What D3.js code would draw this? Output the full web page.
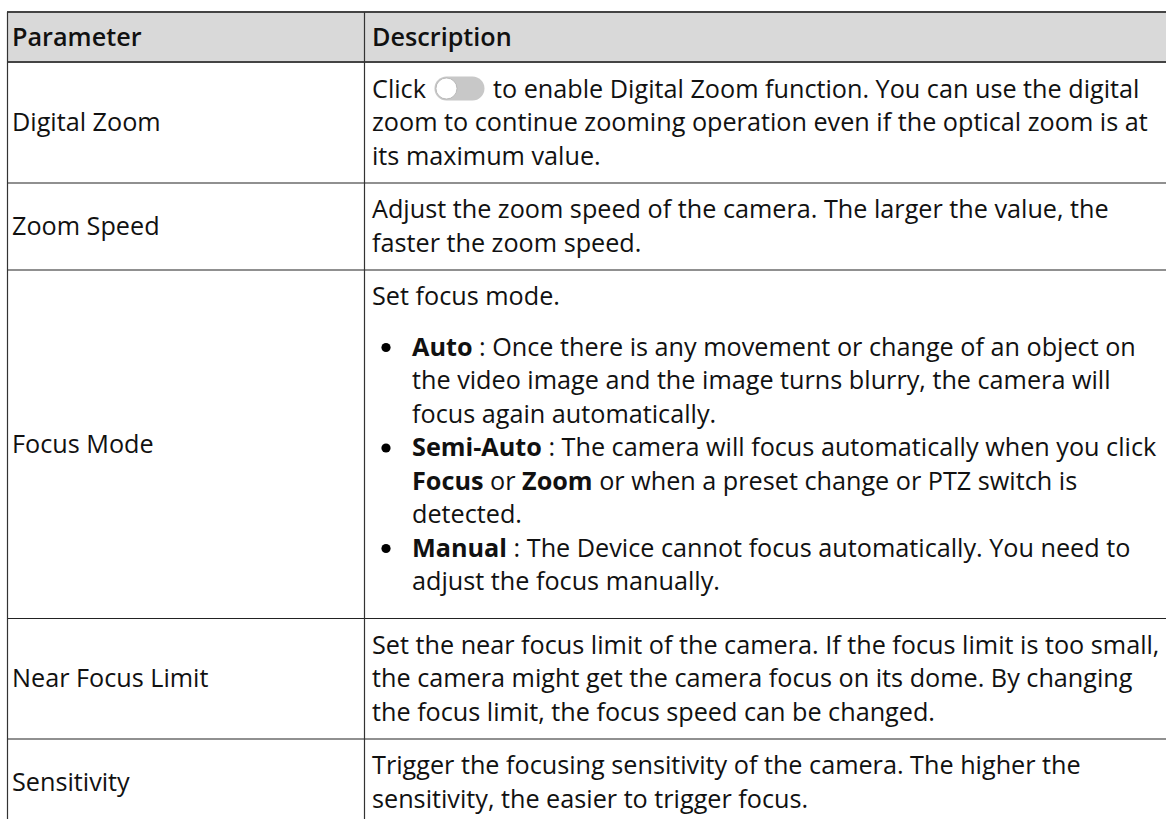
<!DOCTYPE html>
<html><head><meta charset="utf-8">
<script src="https://cdn.jsdelivr.net/npm/d3@7"></script>
<style>html,body{margin:0;padding:0;background:#fff;} svg{display:block;}</style>
</head><body>
<svg id="c" width="1166" height="819"></svg>
<script>
// ---------- data ----------
const headers = ["Parameter", "Description"];
const parameters = ["Digital Zoom", "Zoom Speed", "Focus Mode", "Near Focus Limit", "Sensitivity"];
// segments: plain string = normal, {b:"..."} = bold, {toggle:true} = switch icon
const descDigitalZoom = [
  {bullet:false, lines:[
    ["Click ", {toggle:true}, " to enable Digital Zoom function. You can use the digital"],
    ["zoom to continue zooming operation even if the optical zoom is at"],
    ["its maximum value."]]}
];
const descZoomSpeed = [
  {bullet:false, lines:[
    ["Adjust the zoom speed of the camera. The larger the value, the"],
    ["faster the zoom speed."]]}
];
const descFocusMode = [
  {bullet:false, lines:[["Set focus mode."]]},
  {bullet:true, gapBefore:true, lines:[
    [{b:"Auto"}, " : Once there is any movement or change of an object on"],
    ["the video image and the image turns blurry, the camera will"],
    ["focus again automatically."]]},
  {bullet:true, lines:[
    [{b:"Semi-Auto"}, " : The camera will focus automatically when you click"],
    [{b:"Focus"}, " or ", {b:"Zoom"}, " or when a preset change or PTZ switch is"],
    ["detected."]]},
  {bullet:true, gapAfter:true, lines:[
    [{b:"Manual"}, " : The Device cannot focus automatically. You need to"],
    ["adjust the focus manually."]]}
];
const descNearFocus = [
  {bullet:false, lines:[
    ["Set the near focus limit of the camera. If the focus limit is too small,"],
    ["the camera might get the camera focus on its dome. By changing"],
    ["the focus limit, the focus speed can be changed."]]}
];
const descSensitivity = [
  {bullet:false, lines:[
    ["Trigger the focusing sensitivity of the camera. The higher the"],
    ["sensitivity, the easier to trigger focus."]]}
];
const descriptions = [descDigitalZoom, descZoomSpeed, descFocusMode, descNearFocus, descSensitivity];

// ---------- layout ----------
const W = 1166, H = 819;
const fontFamily = "'Open Sans','Noto Sans',sans-serif";
const tableLeft = 7, colDiv = 364, tableRight = 1166, tableTop = 12;
const headerH = 50, lineH = 33.5, padTop = 10, padBottom = 10, listGapBefore = 17, listGapAfter = 10;
const labelX = 12, descX = 372, bulletX = 386, bulletTextX = 412;

const svg = d3.select("#c");

// fit font size to reference line width
const probe = svg.append("text").attr("font-family", fontFamily).attr("font-size", 20)
  .text("zoom to continue zooming operation even if the optical zoom is at");
const probeW = probe.node().getComputedTextLength();
probe.remove();
const fs = 20 * (1148 - descX) / probeW;

// row heights from content
function rowHeight(desc) {
  let n = 0, extra = 0;
  desc.forEach(p => { n += p.lines.length; if (p.gapBefore) extra += listGapBefore; if (p.gapAfter) extra += listGapAfter; });
  return padTop + n * lineH + extra + padBottom;
}
const rowHeights = descriptions.map(rowHeight);
const rowTops = [];
let acc = tableTop + headerH;
rowHeights.forEach(h => { rowTops.push(acc); acc += h; });

const x = d3.scaleOrdinal().domain(headers).range([tableLeft, colDiv]);

// header background
svg.append("rect").attr("x", tableLeft).attr("y", tableTop)
  .attr("width", tableRight - tableLeft).attr("height", headerH).attr("fill", "#d9d9d9");

const gText = svg.append("g").attr("font-family", fontFamily).attr("font-size", fs).attr("fill", "#111");

// header texts
gText.selectAll("text.h").data(headers).join("text").attr("class", "h")
  .attr("x", d => x(d) + (d === headers[0] ? labelX - tableLeft : descX - colDiv))
  .attr("y", tableTop + headerH / 2 + 0.35 * fs)
  .attr("font-weight", 600).text(d => d);

// parameter labels (vertically centred)
gText.selectAll("text.p").data(parameters).join("text").attr("class", "p")
  .attr("x", labelX)
  .attr("y", (d, i) => rowTops[i] + rowHeights[i] / 2 + 0.35 * fs)
  .text(d => d);

// description lines
descriptions.forEach((desc, ri) => {
  let y = rowTops[ri] + padTop;
  desc.forEach(p => {
    if (p.gapBefore) y += listGapBefore;
    p.lines.forEach((segs, li) => {
      const base = y + lineH / 2 + 0.35 * fs;
      let cx = p.bullet ? bulletTextX : descX;
      if (p.bullet && li === 0) {
        svg.append("circle").attr("cx", bulletX).attr("cy", base - 0.32 * fs).attr("r", 4.6).attr("fill", "#000");
      }
      segs.forEach(s => {
        if (typeof s === "object" && s.toggle) {
          const tw = 50, th = 24, ty = base - 0.36 * fs - th / 2;
          const tx = cx + 2;
          svg.append("rect").attr("x", tx).attr("y", ty).attr("width", tw).attr("height", th)
            .attr("rx", th / 2).attr("fill", "#c8c8c8");
          svg.append("circle").attr("cx", tx + th / 2).attr("cy", ty + th / 2).attr("r", th / 2 - 1.5)
            .attr("fill", "#fff").attr("stroke", "#b0b0b0").attr("stroke-width", 0.8);
          cx = tx + tw + 2;
        } else {
          const bold = typeof s === "object";
          const t = gText.append("text").attr("x", cx).attr("y", base)
            .style("white-space", "pre").attr("font-weight", bold ? 700 : 400)
            .text(bold ? s.b : s);
          cx += t.node().getComputedTextLength();
        }
      });
      y += lineH;
    });
    if (p.gapAfter) y += listGapAfter;
  });
});

// borders
const gLines = svg.append("g");
gLines.append("line").attr("x1", tableLeft).attr("x2", tableRight).attr("y1", tableTop).attr("y2", tableTop)
  .attr("stroke", "#444").attr("stroke-width", 2);
gLines.append("line").attr("x1", tableLeft).attr("x2", tableRight).attr("y1", tableTop + headerH).attr("y2", tableTop + headerH)
  .attr("stroke", "#444").attr("stroke-width", 2);
gLines.selectAll("line.r").data(rowTops.slice(1)).join("line").attr("class", "r")
  .attr("x1", tableLeft).attr("x2", tableRight).attr("y1", d => d + 0.5).attr("y2", d => d + 0.5)
  .attr("stroke", "#222").attr("stroke-width", 1.2);
gLines.selectAll("line.v").data([tableLeft, colDiv]).join("line").attr("class", "v")
  .attr("x1", d => d + 0.5).attr("x2", d => d + 0.5).attr("y1", tableTop).attr("y2", H)
  .attr("stroke", "#333").attr("stroke-width", 1.2);
</script>
</body></html>
